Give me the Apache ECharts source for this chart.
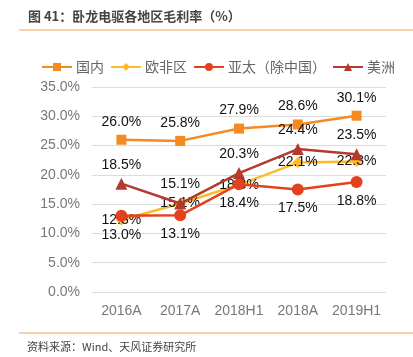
<!DOCTYPE html>
<html><head><meta charset="utf-8">
<script src="https://cdn.jsdelivr.net/npm/echarts@6/dist/echarts.min.js"></script>
<style>html,body{margin:0;padding:0;background:#fff}#c{width:413px;height:357px}</style>
</head><body><div id="c"></div>
<script>
var categories = ['2016A','2017A','2018H1','2018A','2019H1'];
var domestic = [26.0, 25.8, 27.9, 28.6, 30.1];
var europeAfrica = [12.3, 15.1, 18.3, 22.1, 22.3];
var asiaPacific = [13.0, 13.1, 18.4, 17.5, 18.8];
var americas = [18.5, 15.1, 20.3, 24.4, 23.5];
var seriesNames = ['国内','欧非区','亚太（除中国）','美洲'];

var chart = echarts.init(document.getElementById('c'));
var lbl = function(pos){return {show:true,position:pos,formatter:function(p){return p.value.toFixed(1)+'%';},color:'#111',fontSize:14,fontFamily:'Liberation Sans, Arial, sans-serif',distance:6};};
chart.setOption({
  animation:false,
  graphic:[
    {type:'text',left:28,top:10,style:{text:'图 41：卧龙电驱各地区毛利率（%）',fill:'#444',font:'bold 13px "Noto Sans CJK SC", sans-serif'}},
    {type:'line',shape:{x1:19,y1:30,x2:413,y2:30},style:{stroke:'#F5A05A',lineWidth:1}},
    {type:'line',shape:{x1:19,y1:333,x2:413,y2:333},style:{stroke:'#F5A05A',lineWidth:1}},
    {type:'text',left:27,top:341,style:{text:'资料来源：Wind、天风证券研究所',fill:'#444',font:'11px "Noto Sans CJK SC", sans-serif'}}
  ],
  legend:{top:55,left:36,itemWidth:30,itemHeight:10,itemGap:6,
    textStyle:{color:'#666',fontSize:14,padding:[0,0,0,-1],fontFamily:'"Noto Sans CJK SC", sans-serif'},data:seriesNames},
  grid:{left:92,right:27,top:87,bottom:65,containLabel:false},
  xAxis:{type:'category',data:categories,boundaryGap:true,
    axisLine:{show:false},axisTick:{show:false},
    axisLabel:{interval:0,color:'#777',fontSize:14,margin:12,fontFamily:'Liberation Sans, Arial, sans-serif'}},
  yAxis:{type:'value',min:0,max:35,interval:5,
    axisLabel:{color:'#777',fontSize:14,margin:12,formatter:function(v){return v.toFixed(1)+'%';},fontFamily:'Liberation Sans, Arial, sans-serif'},
    splitLine:{lineStyle:{color:'#DCDCDC',width:1}},axisLine:{show:false},axisTick:{show:false}},
  series:[
    {name:seriesNames[0],type:'line',data:domestic,symbol:'rect',symbolSize:10,
     lineStyle:{color:'#F58A23',width:2.5},itemStyle:{color:'#F58A23'},label:lbl('top'),z:3},
    {name:seriesNames[1],type:'line',data:europeAfrica,symbol:'diamond',symbolSize:11,
     lineStyle:{color:'#FDBB2A',width:2.5},itemStyle:{color:'#FDBB2A'},label:lbl('inside'),z:2},
    {name:seriesNames[2],type:'line',data:asiaPacific,symbol:'circle',symbolSize:12,
     lineStyle:{color:'#E2431E',width:2.5},itemStyle:{color:'#E2431E'},label:lbl('bottom'),z:4},
    {name:seriesNames[3],type:'line',data:americas,symbol:'triangle',symbolSize:12,
     lineStyle:{color:'#B33A2C',width:2.5},itemStyle:{color:'#B33A2C'},label:lbl('top'),z:5}
  ]
});
</script></body></html>
